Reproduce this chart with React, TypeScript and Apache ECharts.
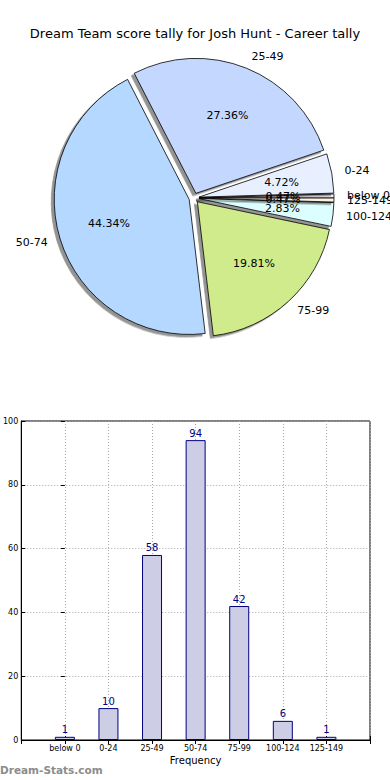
import React, { useEffect, useRef } from 'react';
import * as echarts from 'echarts';

const titleText = 'Dream Team score tally for Josh Hunt - Career tally';
const categories = ['below 0', '0-24', '25-49', '50-74', '75-99', '100-124', '125-149'];
const counts = [1, 10, 58, 94, 42, 6, 1];
const sliceColors = ['#f2ecff', '#e8f0ff', '#c4d8ff', '#b4d8ff', '#d0eb8c', '#dcfeff', '#fff2dc'];
const yTicks = [0, 20, 40, 60, 80, 100];
const xLabel = 'Frequency';
const watermark = 'Dream-Stats.com';

const FONT = 'DejaVu Sans';

export default function App() {
  const ref = useRef<HTMLDivElement>(null);

  useEffect(() => {
    if (!ref.current) return;
    const chart = echarts.init(ref.current, undefined, { renderer: 'svg' });
    const total = counts.reduce((a, b) => a + b, 0);
    const cx = 194;
    const cy = 198;
    const r = 135;

    const sliceStyle = {
      borderColor: '#000',
      borderWidth: 0.8,
      shadowColor: 'rgba(0,0,0,0.42)',
      shadowOffsetX: -3,
      shadowOffsetY: 2.5,
      shadowBlur: 0,
    };

    const gridLine = { show: true, lineStyle: { type: [1, 2], color: '#a8a8a8', width: 1 } };

    const option: any = {
      animation: false,
      title: {
        text: titleText,
        left: 'center',
        top: 22,
        textStyle: { fontFamily: FONT, fontSize: 13, fontWeight: 'normal', color: '#000' },
      },
      graphic: [
        {
          type: 'text',
          left: 0,
          top: 764,
          style: {
            text: watermark,
            fill: '#8c8c8c',
            font: `bold 10.5px "${FONT}"`,
          },
        },
      ],
      grid: {
        left: 19,
        top: 421,
        width: 351,
        height: 319,
        show: true,
        borderColor: '#000',
        borderWidth: 1,
      },
      xAxis: [
        {
          type: 'value',
          min: -1,
          max: categories.length,
          interval: 1,
          axisLine: { show: true, onZero: false, lineStyle: { color: '#000', width: 1 } },
          axisTick: { show: true, inside: true, length: 4, lineStyle: { color: '#000' } },
          axisLabel: {
            fontSize: 8,
            fontFamily: FONT,
            color: '#000',
            margin: 4,
            formatter: (v: number) => categories[v] ?? '',
          },
          splitLine: gridLine,
          name: xLabel,
          nameLocation: 'middle',
          nameGap: 15,
          nameTextStyle: { fontSize: 10, fontFamily: FONT, color: '#000' },
        },
        {
          type: 'value',
          position: 'top',
          min: -1,
          max: categories.length,
          interval: 1,
          axisLine: { show: false },
          axisTick: { show: true, inside: true, length: 4, lineStyle: { color: '#000' } },
          axisLabel: { show: false },
          splitLine: { show: false },
        },
      ],
      yAxis: [
        {
          type: 'value',
          min: yTicks[0],
          max: yTicks[yTicks.length - 1],
          interval: 20,
          axisLine: { show: true, onZero: false, lineStyle: { color: '#000', width: 1 } },
          axisTick: { show: true, inside: true, length: 4, lineStyle: { color: '#000' } },
          axisLabel: { fontSize: 8, fontFamily: FONT, color: '#000', margin: 3 },
          splitLine: gridLine,
        },
        {
          type: 'value',
          position: 'right',
          min: yTicks[0],
          max: yTicks[yTicks.length - 1],
          interval: 20,
          axisLine: { show: false },
          axisTick: { show: true, inside: true, length: 4, lineStyle: { color: '#000' } },
          axisLabel: { show: false },
          splitLine: { show: false },
        },
      ],
      series: [
        {
          type: 'pie',
          center: [cx, cy],
          radius: r,
          startAngle: 0,
          clockwise: false,
          selectedMode: 'multiple',
          selectedOffset: 5,
          avoidLabelOverlap: false,
          labelLayout: { hideOverlap: false },
          label: {
            show: true,
            position: 'outside',
            formatter: '{b}',
            fontSize: 11,
            fontFamily: FONT,
            color: '#000',
            distanceToLabelLine: 0,
          },
          labelLine: { show: false, length: 13, length2: 0 },
          itemStyle: sliceStyle,
          select: { itemStyle: sliceStyle },
          emphasis: { disabled: true },
          z: 2,
          data: categories.map((c, i) => ({
            name: c,
            value: counts[i],
            selected: true,
            itemStyle: { color: sliceColors[i] },
            select: { itemStyle: { color: sliceColors[i] } },
          })),
        },
        {
          type: 'pie',
          center: [cx, cy],
          radius: r * 1.2,
          startAngle: 0,
          clockwise: false,
          selectedMode: 'multiple',
          selectedOffset: 5,
          avoidLabelOverlap: false,
          labelLayout: { hideOverlap: false },
          silent: true,
          label: {
            show: true,
            position: 'inside',
            fontSize: 11,
            fontFamily: FONT,
            color: '#000',
            formatter: (p: any) => ((p.value / total) * 100).toFixed(2) + '%',
          },
          labelLine: { show: false },
          itemStyle: { color: 'rgba(0,0,0,0)', borderWidth: 0 },
          select: { itemStyle: { color: 'rgba(0,0,0,0)', borderWidth: 0 } },
          emphasis: { disabled: true },
          z: 3,
          data: categories.map((c, i) => ({ name: c, value: counts[i], selected: true })),
        },
        {
          type: 'bar',
          xAxisIndex: 0,
          yAxisIndex: 0,
          barWidth: 20,
          itemStyle: { color: '#cdcde6', borderColor: '#000080', borderWidth: 1 },
          label: {
            show: true,
            position: 'top',
            distance: 2,
            fontSize: 10,
            fontFamily: FONT,
            color: '#000080',
          },
          emphasis: { disabled: true },
          data: counts.map((v, i) => [i, v]),
        },
      ],
    };

    chart.setOption(option);
    return () => chart.dispose();
  }, []);

  return (
    <div
      ref={ref}
      style={{ position: 'absolute', left: 0, top: 0, width: 390, height: 780, background: '#fff' }}
    />
  );
}
